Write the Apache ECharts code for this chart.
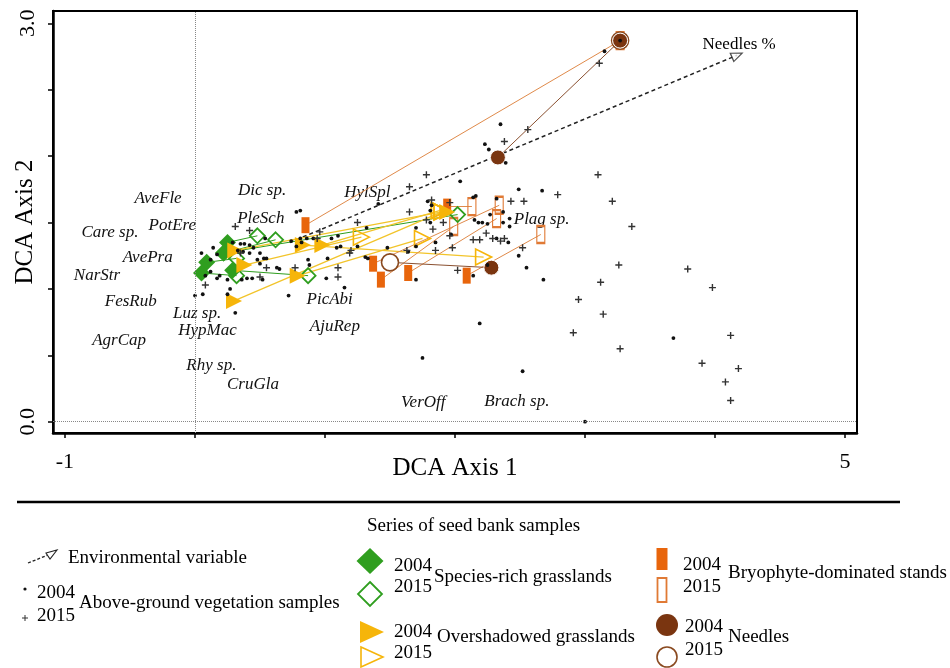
<!DOCTYPE html>
<html><head><meta charset="utf-8">
<script src="https://cdn.jsdelivr.net/npm/echarts@6/dist/echarts.min.js"></script>
<style>html,body{margin:0;padding:0;background:#fff}#c{width:950px;height:668px}</style>
</head><body><div id="c"></div>
<script>
// ---------- axes ----------
const xTickValues = [-1, 0, 1, 2, 3, 4, 5];
const xLabelValues = [-1, 5];
const yTickValues = [0, 0.5, 1, 1.5, 2, 2.5, 3];
const yLabelValues = [0, 3];
const xRange = [-1.092, 5.092];
const yRange = [-0.085, 3.093];
const xTitle = 'DCA Axis 1';
const yTitle = 'DCA Axis 2';

// ---------- species scores (labels) ----------
const speciesNames = ['AveFle','Dic sp.','HylSpl','PotEre','PleSch','Care sp.','AvePra','NarStr','Plag sp.','FesRub','PicAbi','Luz sp.','HypMac','AjuRep','AgrCap','Rhy sp.','CruGla','VerOff','Brach sp.'];
const speciesX = [-0.28,0.52,1.33,-0.17,0.51,-0.65,-0.36,-0.75,2.67,-0.49,1.04,0.02,0.10,1.08,-0.58,0.13,0.45,1.76,2.48];
const speciesY = [1.68,1.74,1.72,1.47,1.53,1.42,1.23,1.10,1.52,0.90,0.92,0.81,0.68,0.71,0.61,0.42,0.28,0.14,0.15];

// ---------- environmental variable ----------
const envName = 'Needles %';
const envFrom = [0.73, 1.35];
const envTo = [4.17, 2.76];

// ---------- above-ground vegetation samples ----------
const veg2004 = [
 [3.15,2.79],[2.35,2.24],[2.23,2.09],[2.26,2.05],[2.39,1.95],[2.04,1.81],[2.49,1.75],[2.67,1.74],[1.41,1.64],[2.14,1.69],
 [2.16,1.70],[1.15,1.01],[2.19,0.74],[1.75,0.48],[2.52,0.38],[3.00,0.00],[2.68,1.07],[2.55,1.16],[2.49,1.25],[1.70,1.07],
 [1.85,1.35],[1.01,1.08],[1.79,1.66],[1.82,1.63],[1.81,1.59],[2.32,1.68],[2.37,1.58],[2.37,1.50],[2.42,1.53],[2.42,1.47],
 [2.18,1.50],[2.21,1.50],[2.15,1.52],[2.25,1.49],[2.27,1.56],[1.70,1.46],[1.70,1.32],[1.64,1.28],[2.32,1.38],[2.41,1.35],
 [2.25,1.18],[2.14,1.10],[3.68,0.63],[0.00,0.95],[0.06,0.96],[0.05,1.27],[0.14,1.31],[0.17,1.26],[0.12,1.22],[0.12,1.13],
 [0.17,1.08],[0.25,1.07],[0.36,1.07],[0.40,1.08],[0.44,1.08],[0.35,1.34],[0.38,1.34],[0.42,1.33],[0.42,1.27],[0.45,1.31],
 [0.54,1.38],[0.50,1.27],[0.48,1.22],[0.50,1.19],[0.53,1.23],[0.55,1.23],[0.63,1.16],[0.65,1.15],[0.52,1.07],[0.25,0.96],
 [0.31,0.82],[0.72,0.95],[0.81,1.59],[0.87,1.22],[0.88,1.18],[0.91,1.38],[1.02,1.23],[1.09,1.31],[1.12,1.32],[1.05,1.38],
 [1.10,1.40],[1.25,1.32],[1.32,1.46],[1.31,1.24],[1.33,1.23],[0.81,1.38],[0.82,1.35],[0.08,1.10],[0.19,1.10],[0.29,1.35],
 [0.33,1.29],[0.37,1.28],[0.86,1.38],[0.78,1.32],[0.74,1.36],[0.27,1.00],[0.78,1.58],[3.27,2.87],[1.48,1.31],[1.97,1.41],
 [1.81,1.50]
];
const veg2015 = [
 [3.11,2.70],[2.56,2.20],[2.38,2.11],[1.78,1.86],[1.65,1.77],[2.79,1.71],[3.10,1.86],[3.21,1.66],[2.53,1.66],[2.43,1.66],
 [3.36,1.47],[3.26,1.18],[3.79,1.15],[3.98,1.01],[3.14,0.81],[3.27,0.55],[3.90,0.44],[4.12,0.65],[4.18,0.40],[4.08,0.30],
 [4.12,0.16],[3.12,1.05],[2.95,0.92],[2.91,0.67],[1.82,1.67],[1.96,1.65],[2.14,1.37],[2.19,1.37],[2.29,1.38],[2.38,1.38],
 [2.24,1.42],[1.98,1.31],[1.85,1.29],[2.52,1.31],[2.02,1.14],[1.96,1.40],[1.91,1.50],[1.83,1.45],[1.78,1.52],[0.42,1.44],
 [0.96,1.43],[1.25,1.50],[1.20,1.29],[0.77,1.16],[0.55,1.16],[0.50,1.09],[0.31,1.47],[0.35,1.27],[0.94,1.38],[1.19,1.27],
 [1.10,1.16],[0.08,1.03],[1.10,1.09],[1.65,1.58],[1.63,1.29],[2.35,1.36]
];

// ---------- seed bank samples (2004 -> 2015 pairs, same order) ----------
const speciesRich2004 = [[0.25,1.35],[0.22,1.27],[0.09,1.20],[0.05,1.12],[0.29,1.14],[0.22,1.27]];
const speciesRich2015 = [[0.48,1.40],[0.62,1.37],[0.32,1.23],[0.32,1.10],[0.87,1.10],[2.02,1.56]];
const overshadowed2004 = [[0.31,1.29],[0.38,1.18],[0.83,1.33],[0.98,1.33],[0.79,1.10],[0.30,0.91],[1.94,1.58]];
const overshadowed2015 = [[1.90,1.58],[1.28,1.39],[2.22,1.24],[1.88,1.59],[1.75,1.38],[1.90,1.58],[1.88,1.59]];
const bryophyte2004 = [[0.85,1.48],[1.37,1.19],[1.43,1.07],[1.64,1.12],[2.09,1.10],[1.94,1.62]];
const bryophyte2015 = [[3.27,2.87],[2.34,1.63],[1.99,1.47],[2.32,1.53],[2.66,1.41],[2.13,1.62]];
const needles2004 = [[2.33,1.99],[2.28,1.16],[3.27,2.87]];
const needles2015 = [[3.27,2.87],[1.50,1.20]];
const needlePairs2004 = [[2.33,1.99],[2.28,1.16]];
const needlePairs2015 = [[3.27,2.87],[1.50,1.20]];

// ---------- styling ----------
const SERIF = '"Liberation Serif", "Times New Roman", serif';
const GREEN = '#2f9e1f', GOLD = '#f6b50a', GOLD_LINE = '#f2c42a', ORANGE = '#e8650c', ORANGE_LINE = '#e08a4a', BROWN = '#7a3510', BROWN_LINE = '#8a5030';
const PLUS = 'path://M4,0H6V4H10V6H6V10H4V6H0V4H4Z';

function pairLines(a, b) { return a.map((p, i) => ({ coords: [p, b[i]] })); }
function linesSeries(a, b, color, width) {
  return { type: 'lines', coordinateSystem: 'cartesian2d', polyline: false, silent: true, z: 2,
    data: pairLines(a, b), symbol: 'none', lineStyle: { color: color, width: width, opacity: 1, curveness: 0 } };
}
function scatter(data, symbol, size, itemStyle, extra) {
  return Object.assign({ type: 'scatter', data: data, symbol: symbol, symbolSize: size, silent: true, z: 3,
    itemStyle: Object.assign({ opacity: 1 }, itemStyle) }, extra || {});
}

const chart = echarts.init(document.getElementById('c'), null, { renderer: 'canvas' });

const T = (text, x, y, extra) => ({ type: 'text', x: x, y: y, silent: true,
  style: Object.assign({ text: text, font: '19px ' + SERIF, fill: '#000', verticalAlign: 'middle', align: 'left' }, extra || {}) });

const graphics = [
  { type: 'line', shape: { x1: 17, y1: 502, x2: 900, y2: 502 }, style: { stroke: '#000', lineWidth: 2.5 } },
  T('Series of seed bank samples', 367, 526),
  { type: 'line', shape: { x1: 28, y1: 563, x2: 48, y2: 555 }, style: { stroke: '#222', lineWidth: 1.3, lineDash: [3, 2] } },
  { type: 'polygon', shape: { points: [[46, 553], [57, 550], [50, 559]] }, style: { fill: '#fff', stroke: '#222', lineWidth: 1.1 } },
  T('Environmental variable', 68, 558),
  { type: 'circle', shape: { cx: 25, cy: 589, r: 1.6 }, style: { fill: '#111' } },
  { type: 'line', shape: { x1: 22, y1: 618, x2: 28, y2: 618 }, style: { stroke: '#333', lineWidth: 1 } },
  { type: 'line', shape: { x1: 25, y1: 615, x2: 25, y2: 621 }, style: { stroke: '#333', lineWidth: 1 } },
  T('2004', 37, 593), T('2015', 37, 616), T('Above-ground vegetation samples', 79, 603),
  { type: 'polygon', shape: { points: [[370, 548], [383.5, 561], [370, 574], [356.5, 561]] }, style: { fill: GREEN } },
  { type: 'polygon', shape: { points: [[370, 582], [382, 594], [370, 606], [358, 594]] }, style: { fill: 'none', stroke: GREEN, lineWidth: 1.8 } },
  T('2004', 394, 566), T('2015', 394, 587), T('Species-rich grasslands', 434, 577),
  { type: 'polygon', shape: { points: [[360, 621], [384, 632], [360, 643]] }, style: { fill: GOLD } },
  { type: 'polygon', shape: { points: [[361, 647], [383, 657], [361, 667]] }, style: { fill: 'none', stroke: GOLD, lineWidth: 1.6 } },
  T('2004', 394, 632), T('2015', 394, 653), T('Overshadowed grasslands', 437, 637),
  { type: 'rect', shape: { x: 656.5, y: 548, width: 11, height: 22 }, style: { fill: ORANGE } },
  { type: 'rect', shape: { x: 657.5, y: 578, width: 9, height: 24 }, style: { fill: 'none', stroke: '#e07a35', lineWidth: 1.8 } },
  T('2004', 683, 565), T('2015', 683, 587), T('Bryophyte-dominated stands', 728, 573),
  { type: 'circle', shape: { cx: 667, cy: 625, r: 11 }, style: { fill: BROWN } },
  { type: 'circle', shape: { cx: 667, cy: 657, r: 10 }, style: { fill: 'none', stroke: '#8a4a20', lineWidth: 1.6 } },
  T('2004', 685, 627), T('2015', 685, 650), T('Needles', 728, 637)
];

const option = {
  animation: false,
  backgroundColor: '#fff',
  grid: { left: 53, right: 93, top: 11, bottom: 235, containLabel: false, outerBoundsMode: 'none',
    show: true, borderColor: '#000', borderWidth: 2, backgroundColor: 'transparent' },
  xAxis: {
    type: 'value', min: xRange[0], max: xRange[1],
    name: xTitle, nameLocation: 'middle', nameGap: 23, nameMoveOverlap: false,
    nameTextStyle: { fontFamily: SERIF, fontSize: 25, color: '#000' },
    axisLine: { show: true, onZero: false, lineStyle: { color: '#000', width: 2.5 } },
    axisTick: { show: true, inside: false, length: 5, customValues: xTickValues, lineStyle: { color: '#000', width: 1.5 } },
    axisLabel: { show: true, customValues: xLabelValues, margin: 18, fontFamily: SERIF, fontSize: 22, color: '#000' },
    splitLine: { show: false }
  },
  yAxis: {
    type: 'value', min: yRange[0], max: yRange[1],
    name: yTitle, nameLocation: 'middle', nameGap: 15, nameRotate: 90, nameMoveOverlap: false,
    nameTextStyle: { fontFamily: SERIF, fontSize: 25, color: '#000' },
    axisLine: { show: true, onZero: false, lineStyle: { color: '#000', width: 2.5 } },
    axisTick: { show: true, inside: false, length: 5, customValues: yTickValues, lineStyle: { color: '#000', width: 1.5 } },
    axisLabel: { show: true, customValues: yLabelValues, rotate: 90, margin: 14, fontFamily: SERIF, fontSize: 22, color: '#000',
      formatter: v => Number(v).toFixed(1) },
    splitLine: { show: false }
  },
  graphic: graphics,
  series: [
    {
      type: 'scatter', silent: true, z: 1, symbolSize: 1, itemStyle: { opacity: 0 },
      data: speciesNames.map((n, i) => ({ name: n, value: [speciesX[i], speciesY[i]] })),
      label: { show: true, position: [0, 0], align: 'center', verticalAlign: 'middle', formatter: p => p.name,
        fontFamily: SERIF, fontStyle: 'italic', fontSize: 17, color: '#111', textBorderWidth: 0, opacity: 1 },
      markLine: { silent: true, symbol: 'none', label: { show: false }, animation: false,
        lineStyle: { type: 'dotted', color: '#888', width: 1 },
        data: [{ xAxis: 0 }, { yAxis: 0 }] }
    },
    { type: 'lines', coordinateSystem: 'cartesian2d', silent: true, z: 2, symbol: 'none',
      data: [{ coords: [envFrom, envTo] }], lineStyle: { color: '#222', width: 1.5, type: [4, 3], opacity: 1 } },
    linesSeries(speciesRich2004, speciesRich2015, GREEN, 1),
    linesSeries(overshadowed2004, overshadowed2015, GOLD_LINE, 1.3),
    linesSeries(bryophyte2004, bryophyte2015, ORANGE_LINE, 1),
    linesSeries(needlePairs2004, needlePairs2015, BROWN_LINE, 1),
    scatter(bryophyte2015, 'rect', [8, 17], { color: 'rgba(255,255,255,0)', borderColor: '#e07a35', borderWidth: 1.6 }),
    scatter(bryophyte2004, 'rect', [8, 16], { color: ORANGE }),
    scatter(speciesRich2004, 'diamond', 17, { color: GREEN }),
    scatter(speciesRich2015, 'diamond', 15, { color: 'rgba(255,255,255,0)', borderColor: GREEN, borderWidth: 1.8 }),
    scatter(overshadowed2004, 'triangle', 16, { color: GOLD }, { symbolRotate: -90 }),
    scatter(overshadowed2015, 'triangle', 16, { color: 'rgba(255,255,255,0)', borderColor: GOLD, borderWidth: 1.6 }, { symbolRotate: -90 }),
    scatter(needles2015, 'circle', 17, { color: '#fff', borderColor: '#8a4a20', borderWidth: 1.6 }),
    scatter(needles2004, 'circle', 15, { color: BROWN, borderColor: '#fff', borderWidth: 1 }),
    scatter(veg2004, 'circle', 3.8, { color: '#111' }, { z: 4 }),
    scatter(veg2015, PLUS, 7, { color: '#333' }, { z: 4 }),
    {
      type: 'scatter', silent: true, z: 5, symbol: 'triangle', symbolSize: [9, 11], symbolRotate: -67,
      data: [{ name: envName, value: envTo }],
      itemStyle: { color: '#fff', borderColor: '#222', borderWidth: 1.2 },
      label: { show: true, position: 'top', distance: 0, offset: [2, 5], formatter: p => p.name, fontFamily: SERIF, fontSize: 17, color: '#000', textBorderWidth: 0, opacity: 1 }
    }
  ]
};
chart.setOption(option);
</script>
</body></html>
